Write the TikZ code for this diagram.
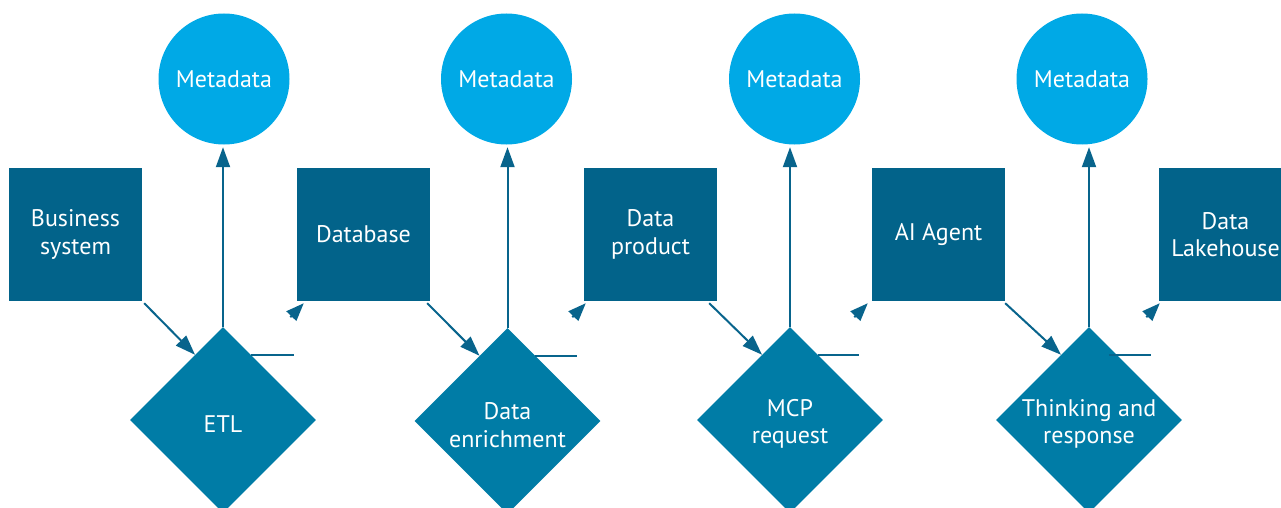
\documentclass[tikz,border=0pt]{standalone}
\usepackage{fontspec}
\setmainfont{PT Sans}
\usetikzlibrary{shapes.geometric,arrows.meta,calc}
\definecolor{boxc}{RGB}{2,99,138}
\definecolor{diac}{RGB}{0,124,166}
\definecolor{circc}{RGB}{0,169,230}
\definecolor{linec}{RGB}{8,100,140}
\tikzset{
  lbl/.style={text=white,font=\fontsize{24}{27.5}\selectfont,align=center},
  meta/.style={lbl,circle,fill=circc,minimum size=131pt,inner sep=0pt},
  sysbox/.style={lbl,rectangle,fill=boxc,minimum size=133pt,inner sep=0pt},
  proc/.style={diamond,aspect=1,fill=diac,minimum width=186pt,minimum height=186pt,inner sep=0pt},
  proclbl/.style={label={[lbl,yshift=-4pt]center:#1}},
  ln/.style={draw=linec,line width=2pt},
  arr/.style={ln,-{Triangle[length=20pt,width=14pt]}}
}
\begin{document}
\begin{tikzpicture}[x=1pt,y=-1pt]
\useasboundingbox (0,0) rectangle (1281,508);
\clip (0,0) rectangle (1281,508);
% metadata circles
\node[meta] (m1) at (224,79) {Metadata};
\node[meta] (m2) at (506.5,79) {Metadata};
\node[meta] (m3) at (794.5,79) {Metadata};
\node[meta] (m4) at (1082,79) {Metadata};
% system boxes
\node[sysbox] (b1) at (75.5,234.5) {Business\\system};
\node[sysbox] (b2) at (363.5,234.5) {Database};
\node[sysbox] (b3) at (650.5,234.5) {Data\\product};
\node[sysbox] (b4) at (938.5,234.5) {AI Agent};
\node[sysbox] (b5) at (1225.5,234.5) {Data\\Lakehouse};
% process diamonds
\node[proc,proclbl={ETL}] (d1) at (223,420) {};
\node[proc,proclbl={Data\\enrichment}] (d2) at (507.5,421) {};
\node[proc,proclbl={MCP\\request}] (d3) at (790,420) {};
\node[proc,proclbl={Thinking and\\response}] (d4) at (1089,420) {};
% diamond -> metadata
\foreach \i in {1,2,3,4}{
  \draw[arr,shorten >=2.5pt] (d\i.north) -- (d\i.north |- m\i.south);
}
% box -> diamond
\draw[arr] ($(b1.south east)+(2,2)$) -- ($(d1.north)!0.3!(d1.west)$);
\draw[arr] ($(b2.south east)+(-3,2)$) -- ($(d2.north)!0.3!(d2.west)$);
\draw[arr] ($(b3.south east)+(-8,2)$) -- ($(d3.north)!0.3!(d3.west)$);
\draw[arr] ($(b4.south east)+(0,2)$) -- ($(d4.north)!0.3!(d4.west)$);
% diamond -> next box (broken elbow connectors)
\coordinate (t2) at ($(b2.south west)+(7,2)$);
\coordinate (t3) at ($(b3.south west)+(2,2)$);
\coordinate (t4) at ($(b4.south west)+(-4,2)$);
\coordinate (t5) at ($(b5.south west)+(1,2)$);
\draw[ln] ($(d1.north)!0.3!(d1.east)$) -- ++(43,0);
\draw[ln] ($(d2.north)!0.3!(d2.east)$) -- ++(42,0);
\draw[ln] ($(d3.north)!0.3!(d3.east)$) -- ++(41,0);
\draw[ln] ($(d4.north)!0.3!(d4.east)+(-8,0)$) -- ++(42,0);
\foreach \i in {2,3,4,5}{
  \draw[arr,-{Triangle[length=18pt,width=13.5pt]}] ($(t\i)+(-13.5,14)$) -- (t\i);
}
\end{tikzpicture}
\end{document}
